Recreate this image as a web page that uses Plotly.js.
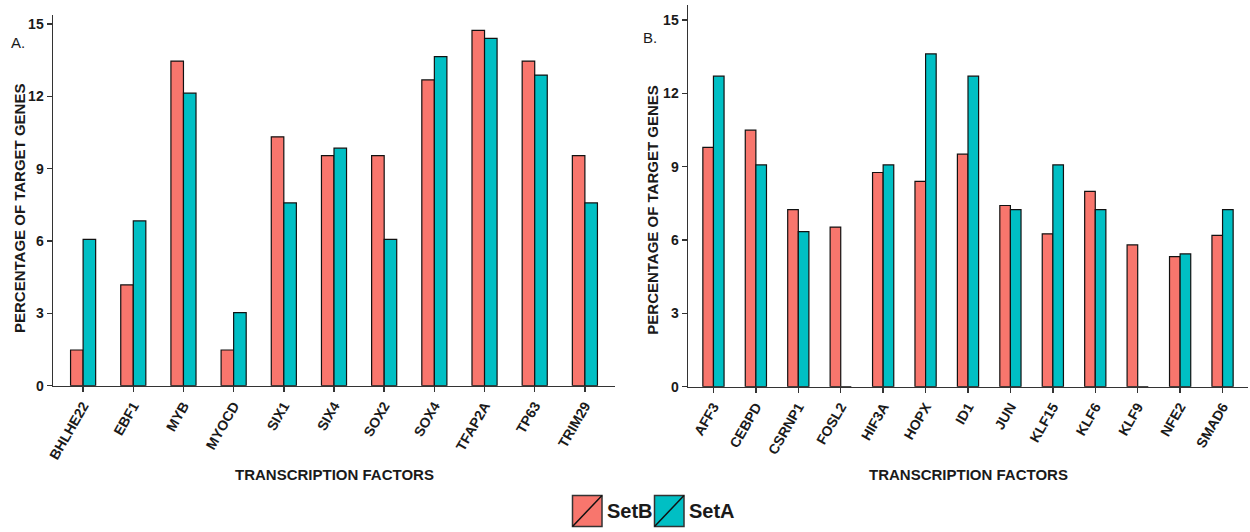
<!DOCTYPE html>
<html>
<head>
<meta charset="utf-8">
<script src="https://cdn.plot.ly/plotly-3.0.1.min.js"></script>
<style>html,body{margin:0;padding:0;background:#fff;}#chart{width:1250px;height:532px;}</style>
</head>
<body>
<div id="chart"></div>
<script>
// Panel A data
const factorsA = ['BHLHE22','EBF1','MYB','MYOCD','SIX1','SIX4','SOX2','SOX4','TFAP2A','TP63','TRIM29'];
const setB_A = [1.48, 4.18, 13.46, 1.48, 10.32, 9.54, 9.54, 12.68, 14.73, 13.46, 9.54];
const setA_A = [6.07, 6.83, 12.13, 3.03, 7.58, 9.85, 6.07, 13.64, 14.40, 12.88, 7.58];

// Panel B data
const factorsB = ['AFF3','CEBPD','CSRNP1','FOSL2','HIF3A','HOPX','ID1','JUN','KLF15','KLF6','KLF9','NFE2','SMAD6'];
const setB_B = [9.79, 10.49, 7.24, 6.53, 8.76, 8.40, 9.51, 7.41, 6.25, 7.99, 5.80, 5.32, 6.19];
const setA_B = [12.70, 9.07, 6.34, 0, 9.07, 13.61, 12.70, 7.24, 9.07, 7.24, 0, 5.43, 7.24];

const yTicks = [0, 3, 6, 9, 12, 15];
const seriesNames = ['SetB', 'SetA'];
const seriesColors = ['#F8766D', '#00BFC4'];

const W = 1250, H = 532;
const px = x => x / W;
const py = y => 1 - y / H;
const FONT = 'Liberation Sans, Arial, Helvetica, sans-serif';
const INK = '#1a1a1a';
const AX = '#333333';

function bar(x, y, i, xa, ya) {
  return {
    type: 'bar', x: x, y: y, name: seriesNames[i], xaxis: xa, yaxis: ya,
    marker: {color: seriesColors[i], line: {color: '#111', width: 1.2}},
    showlegend: false, hoverinfo: 'x+y+name'
  };
}

const data = [
  bar(factorsA, setB_A, 0, 'x', 'y'),
  bar(factorsA, setA_A, 1, 'x', 'y'),
  bar(factorsB, setB_B, 0, 'x2', 'y2'),
  bar(factorsB, setA_B, 1, 'x2', 'y2')
];

const xCommon = {
  showline: true, linecolor: AX, linewidth: 1.5,
  ticks: 'outside', ticklen: 5, tickwidth: 1.5, tickcolor: AX,
  tickangle: -60, tickfont: {family: FONT, size: 14, color: INK, weight: 'bold'},
  showgrid: false, zeroline: false, automargin: false, fixedrange: true
};
const yCommon = {
  showline: true, linecolor: AX, linewidth: 1.5,
  ticks: 'outside', ticklen: 5, tickwidth: 1.5, tickcolor: AX,
  tickmode: 'array', tickvals: yTicks, ticktext: yTicks.map(String),
  tickfont: {family: FONT, size: 14, color: INK, weight: 'bold'},
  showgrid: false, zeroline: false, automargin: false, fixedrange: true
};

const layout = {
  width: W, height: H,
  margin: {l: 0, r: 0, t: 0, b: 0, pad: 0},
  paper_bgcolor: '#fff', plot_bgcolor: '#fff',
  barmode: 'group', bargap: 0.5, bargroupgap: 0,
  font: {family: FONT, color: INK},
  showlegend: false,
  xaxis: Object.assign({}, xCommon, {domain: [px(53), px(615)], range: [-0.6, 10.6], anchor: 'y'}),
  yaxis: Object.assign({}, yCommon, {domain: [py(385.7), py(15)], range: [0, 15.37], anchor: 'x'}),
  xaxis2: Object.assign({}, xCommon, {domain: [px(688), px(1248)], range: [-0.6, 12.6], anchor: 'y2'}),
  yaxis2: Object.assign({}, yCommon, {domain: [py(386.7), py(5)], range: [0, 15.61], anchor: 'x2'}),
  annotations: [
    {text: 'PERCENTAGE OF TARGET GENES', textangle: -90, xref: 'paper', yref: 'paper', x: px(20), y: py(209), xanchor: 'center', yanchor: 'middle', showarrow: false, font: {family: FONT, size: 15, color: INK, weight: 'bold'}},
    {text: 'PERCENTAGE OF TARGET GENES', textangle: -90, xref: 'paper', yref: 'paper', x: px(651.7), y: py(210), xanchor: 'center', yanchor: 'middle', showarrow: false, font: {family: FONT, size: 15, color: INK, weight: 'bold'}},
    {text: 'TRANSCRIPTION FACTORS', xref: 'paper', yref: 'paper', x: px(334), y: py(474), xanchor: 'center', yanchor: 'middle', showarrow: false, font: {family: FONT, size: 15, color: INK, weight: 'bold'}},
    {text: 'TRANSCRIPTION FACTORS', xref: 'paper', yref: 'paper', x: px(968), y: py(474), xanchor: 'center', yanchor: 'middle', showarrow: false, font: {family: FONT, size: 15, color: INK, weight: 'bold'}},
    {text: 'A.', xref: 'paper', yref: 'paper', x: px(17.5), y: py(42), xanchor: 'center', yanchor: 'middle', showarrow: false, font: {family: FONT, size: 15, color: INK}},
    {text: 'B.', xref: 'paper', yref: 'paper', x: px(650), y: py(37), xanchor: 'center', yanchor: 'middle', showarrow: false, font: {family: FONT, size: 15, color: INK}},
    {text: seriesNames[0], xref: 'paper', yref: 'paper', x: px(605), y: py(511), xanchor: 'left', yanchor: 'middle', showarrow: false, font: {family: FONT, size: 20, color: INK, weight: 'bold'}},
    {text: seriesNames[1], xref: 'paper', yref: 'paper', x: px(687), y: py(511), xanchor: 'left', yanchor: 'middle', showarrow: false, font: {family: FONT, size: 20, color: INK, weight: 'bold'}}
  ],
  shapes: [
    {type: 'rect', xref: 'paper', yref: 'paper', x0: px(572.5), x1: px(602), y0: py(526.5), y1: py(495.5), fillcolor: seriesColors[0], line: {color: AX, width: 1.5}},
    {type: 'line', xref: 'paper', yref: 'paper', x0: px(572.5), x1: px(602), y0: py(526.5), y1: py(495.5), line: {color: '#111', width: 1.5}},
    {type: 'rect', xref: 'paper', yref: 'paper', x0: px(654.5), x1: px(684), y0: py(526.5), y1: py(495.5), fillcolor: seriesColors[1], line: {color: AX, width: 1.5}},
    {type: 'line', xref: 'paper', yref: 'paper', x0: px(654.5), x1: px(684), y0: py(526.5), y1: py(495.5), line: {color: '#111', width: 1.5}}
  ]
};

Plotly.newPlot('chart', data, layout, {displayModeBar: false, staticPlot: true});
</script>
</body>
</html>
